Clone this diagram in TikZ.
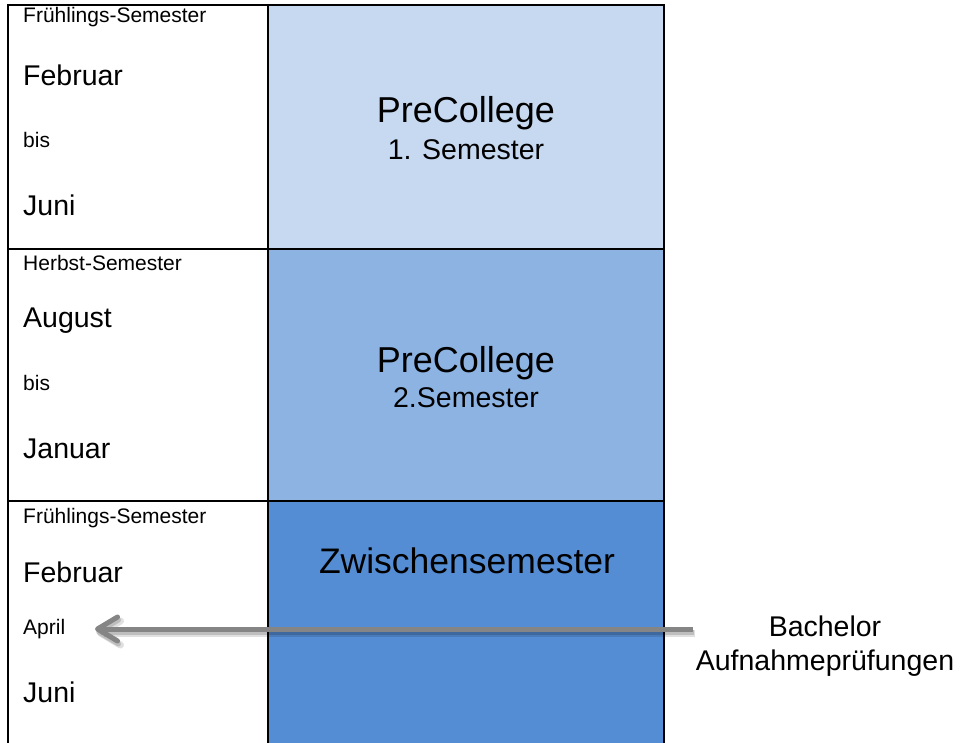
\documentclass[tikz,border=0pt]{standalone}
\usepackage{fontspec}
\setmainfont{Liberation Sans}
\usetikzlibrary{arrows.meta}
\definecolor{rowA}{HTML}{C6D9F1}
\definecolor{rowB}{HTML}{8DB3E2}
\definecolor{rowC}{HTML}{548DD4}
\definecolor{arrgray}{HTML}{858585}
\begin{document}
\begin{tikzpicture}[x=1pt,y=-1pt,
  cell/.style={draw=black,line width=2pt,inner sep=0pt,outer sep=0pt,anchor=north west},
  lcell/.style={cell,fill=white,minimum width=260pt},
  rcell/.style={cell,minimum width=396pt},
  small/.style={font=\fontsize{21}{25}\selectfont,inner sep=0pt,anchor=base west},
  big/.style={font=\fontsize{28.5}{34}\selectfont,inner sep=0pt,anchor=base west},
  title/.style={font=\fontsize{36}{42}\selectfont,inner sep=0pt,anchor=base},
  sub/.style={font=\fontsize{28.5}{34}\selectfont,inner sep=0pt,anchor=base},
  arrowline/.style={line width=5pt,draw=arrgray,-{Straight Barb[length=20pt,width=24pt,round]}},
  shadowline/.style={line width=7pt,draw=black,opacity=0.12,-{Straight Barb[length=20pt,width=24pt,round]}},
]
\useasboundingbox (0,0) rectangle (964,742);
\fill[white] (0,0) rectangle (964,742);
\clip (0,0) rectangle (964,742);

% cells
\node[lcell,minimum height=244pt] (l1) at (8,5) {};
\node[rcell,fill=rowA,minimum height=244pt] (r1) at (268,5) {};
\node[lcell,minimum height=252pt] (l2) at (8,249) {};
\node[rcell,fill=rowB,minimum height=252pt] (r2) at (268,249) {};
\node[lcell,minimum height=260pt] (l3) at (8,501) {};
\node[rcell,fill=rowC,minimum height=260pt] (r3) at (268,501) {};

% left column, row 1
\node[small] (fs1) at (23,22) {Frühlings-Semester};
\node[big] (feb1) at (23,85) {Februar};
\node[small] (bis1) at (23,147) {bis};
\node[big] (jun1) at (23,215) {Juni};

% left column, row 2
\node[small] (hs2) at (23,270) {Herbst-Semester};
\node[big] (aug2) at (23,327) {August};
\node[small] (bis2) at (23,390) {bis};
\node[big] (jan2) at (23,458) {Januar};

% left column, row 3
\node[small] (fs3) at (23,523) {Frühlings-Semester};
\node[big] (feb3) at (23,582) {Februar};
\node[small] (apr3) at (23,634) {April};
\node[big] (jun3) at (23,702) {Juni};

% right column
\node[title] (pc1) at (466,122) {PreCollege};
\node[sub] (sem1) at (466,159) {1. Semester};
\node[title] (pc2) at (466,372) {PreCollege};
\node[sub] (sem2) at (466,407) {2.Semester};
\node[title,font=\fontsize{35.5}{42}\selectfont] (zw) at (467,573) {Zwischensemester};

% Bachelor label
\node[sub] (bach) at (825,636) {Bachelor};
\node[sub] (aufn) at (825,670) {Aufnahmeprüfungen};

% arrow with soft drop shadow
\coordinate (arrstart) at (693,629);
\coordinate (arrtip) at (95,629);
\draw[shadowline] ([shift={(2,4)}]arrstart) -- ([shift={(2,4)}]arrtip);
\draw[shadowline,line width=5pt,opacity=0.15] ([shift={(1,3)}]arrstart) -- ([shift={(1,3)}]arrtip);
\draw[arrowline] (arrstart) -- (arrtip);
\end{tikzpicture}
\end{document}
